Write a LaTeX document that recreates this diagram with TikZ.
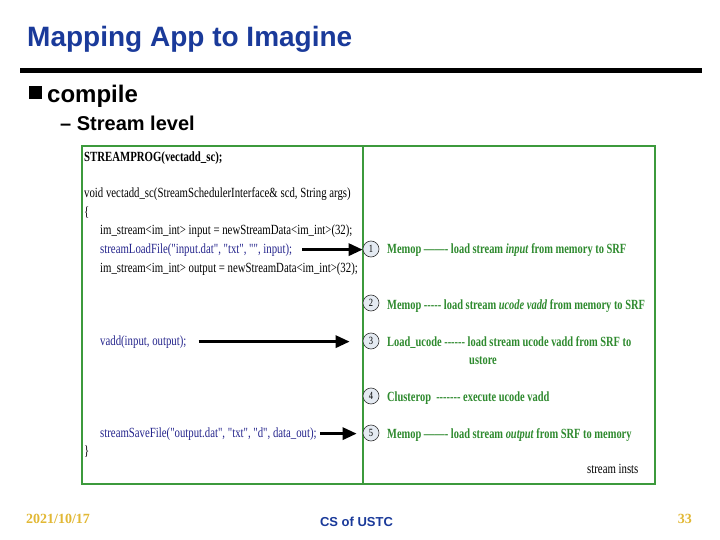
\documentclass[tikz,border=0pt]{standalone}
\usepackage{fontspec}
\setmainfont{Liberation Sans}
\newfontfamily\codefont[FakeStretch=0.77]{Liberation Serif}
\newfontfamily\opfont[FakeStretch=0.745]{Liberation Serif}
\newfontfamily\footfont{Liberation Serif}
\usetikzlibrary{positioning, arrows.meta}
\definecolor{titleblue}{HTML}{1A3A9A}
\definecolor{boxgreen}{HTML}{3C9A3C}
\definecolor{codeblue}{HTML}{24248C}
\definecolor{opgreen}{HTML}{2E8A2E}
\definecolor{markfill}{HTML}{E4EAF2}
\definecolor{dateyellow}{HTML}{E2B834}

\begin{document}
\begin{tikzpicture}[x=1pt, y=-1pt,
    codeline/.style={anchor=base west, inner sep=0pt, font=\codefont\fontsize{14}{16}\selectfont},
    opline/.style={anchor=base west, inner sep=0pt, text=opgreen, font=\opfont\bfseries\fontsize{14}{16}\selectfont},
    marker/.style={circle, draw=black!80, fill=markfill, line width=0.6pt, minimum size=16pt,
                   inner sep=0pt, font=\codefont\fontsize{11}{11}\selectfont},
    callarrow/.style={line width=3pt, -{Triangle[length=14pt, width=12pt]}}]

  \useasboundingbox[fill=white] (0,0) rectangle (720,540);

  % heading
  \node[anchor=base west, inner sep=0pt, text=titleblue, font=\bfseries\fontsize{28}{32}\selectfont]
    (title) at (27,47) {Mapping App to Imagine};
  \draw[line width=5pt] (20,70.5) -- (702,70.5);
  \node[fill=black, minimum size=13pt, inner sep=0pt] (bullet) at (35.5,93) {};
  \node[anchor=base west, inner sep=0pt, font=\bfseries\fontsize{24}{28}\selectfont]
    (compile) at (47,103) {compile};
  \node[anchor=base west, inner sep=0pt, font=\bfseries\fontsize{20}{24}\selectfont]
    (level) at (60,131) {– Stream level};

  % panels
  \draw[boxgreen, line width=2pt] (82,146) rectangle (655,484);
  \draw[boxgreen, line width=2pt] (363,146) -- (363,484);

  % stream program
  \node[codeline, font=\codefont\bfseries\fontsize{14}{16}\selectfont] (prog) at (84,162) {STREAMPROG(vectadd\_sc);};
  \node[codeline] (decl) at (84,198) {void vectadd\_sc(StreamSchedulerInterface\& scd, String args)};
  \node[codeline] (open) at (84,216) {\{};
  \node[codeline] (instream) at (100,235) {im\_stream<im\_int> input = newStreamData<im\_int>(32);};
  \node[codeline, text=codeblue] (load) at (100,253) {streamLoadFile("input.dat", "txt", "", input);};
  \node[codeline] (outstream) at (100,272) {im\_stream<im\_int> output = newStreamData<im\_int>(32);};
  \node[codeline, text=codeblue] (vadd) at (100,345) {vadd(input, output);};
  \node[codeline, text=codeblue] (save) at (100,437) {streamSaveFile("output.dat", "txt", "d", data\_out);};
  \node[codeline] (close) at (84,455) {\}};

  % stream instructions
  \node[marker] (m1) at (371,249) {1};
  \node[marker] (m2) at (371,303) {2};
  \node[marker] (m3) at (371,341) {3};
  \node[marker] (m4) at (371,396) {4};
  \node[marker] (m5) at (371,433) {5};

  \node[opline] (op1) at (387,254) {Memop ——- load stream \textit{input} from memory to SRF};
  \node[opline] (op2) at (387,309) {Memop ----- load stream \textit{ucode vadd} from memory to SRF};
  \node[opline] (op3) at (387,346) {Load\_ucode ------ load stream ucode vadd from SRF to};
  \node[opline] (op3b) at (469,364) {ustore};
  \node[opline] (op4) at (387,401) {Clusterop\ \ ------- execute ucode vadd};
  \node[opline] (op5) at (387,438) {Memop ——- load stream \textit{output} from SRF to memory};
  \node[codeline] (insts) at (587,473) {stream insts};

  % calls
  \draw[callarrow] ([xshift=10pt]load.east) -- (load.east -| m1.west);
  \draw[callarrow, shorten >=13pt] ([xshift=12pt]vadd.east) -- (vadd.east -| m3.west);
  \draw[callarrow, shorten >=6pt] ([xshift=3pt]save.east) -- (save.east -| m5.west);

  % footer
  \node[anchor=base west, inner sep=0pt, text=dateyellow, font=\footfont\bfseries\fontsize{14}{16}\selectfont]
    (date) at (26,523) {2021/10/17};
  \node[anchor=base, inner sep=0pt, text=titleblue, font=\bfseries\fontsize{13}{15}\selectfont]
    (org) at (356.5,526) {CS of USTC};
  \node[anchor=base east, inner sep=0pt, text=dateyellow, font=\footfont\bfseries\fontsize{14}{16}\selectfont]
    (page) at (692,523) {33};
\end{tikzpicture}
\end{document}
